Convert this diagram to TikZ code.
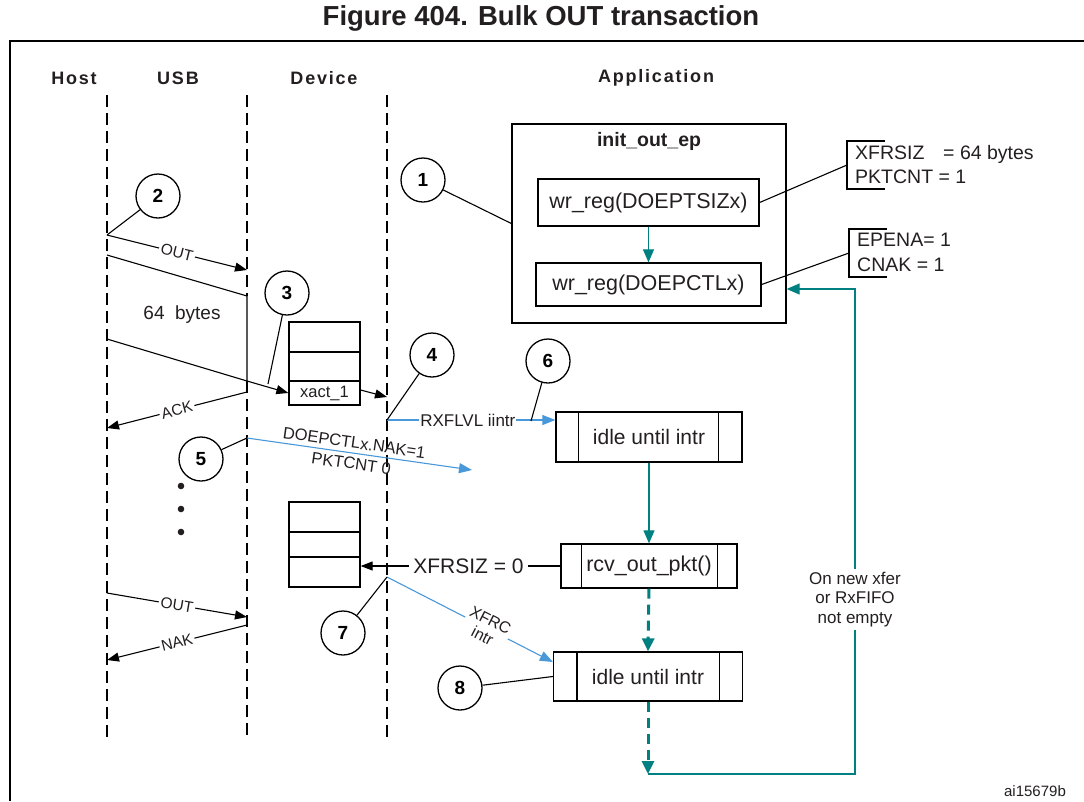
\documentclass[tikz,border=0pt]{standalone}
\usepackage{fontspec}
\setmainfont{Liberation Sans}
\newfontfamily\hdrfont[LetterSpace=10]{Liberation Sans}
\usetikzlibrary{arrows.meta,calc}
\definecolor{tealc}{RGB}{0,128,128}
\definecolor{iblue}{RGB}{72,152,218}
\definecolor{txt}{RGB}{35,31,32}
\newcommand\fsz[2]{\fontsize{#1}{#2}\selectfont}
\begin{document}
\begin{tikzpicture}[x=1pt,y=-1pt,
  lifeline/.style={line width=2.6pt, dash pattern=on 12pt off 6pt},
  framel/.style={line width=2.6pt},
  thinl/.style={line width=1.1pt},
  arr/.style={thinl, -{Triangle[length=12pt,width=9pt]}},
  barr/.style={iblue, line width=1.1pt, -{Triangle[length=13pt,width=10pt]}},
  tarr/.style={tealc, line width=1.2pt, -{Triangle[length=13pt,width=11pt]}},
  tdash/.style={tealc, line width=3pt, dash pattern=on 10pt off 6pt, -{Triangle[length=13pt,width=12pt]}},
  box/.style={draw, line width=1.3pt, inner sep=0pt, text=txt},
  callout/.style={draw, circle, line width=1.3pt, minimum size=44pt, inner sep=0pt, font=\bfseries\fsz{19}{21}},
  lbl/.style={fill=white, inner sep=2pt, text=txt},
  hdr/.style={font=\hdrfont\bfseries\fsz{18}{20}, text=txt}]
\useasboundingbox (0,0) rectangle (1084,801);

% title and frame
\node[font=\bfseries\fsz{27.5}{30}, text=txt] (title) at (541,18) {Figure 404. Bulk OUT transaction};
\coordinate (fr1) at (10,801); \coordinate (fr2) at (10,41); \coordinate (fr3) at (1084,41);
\draw[framel] (fr1) -- (fr2) -- (fr3);

% headers
\node[hdr] (hhost) at (74,78) {Host};
\node[hdr] (husb) at (178,78) {USB};
\node[hdr] (hdev) at (324,78) {Device};
\node[hdr] (happ) at (656,78) {Application};

% lifelines
\coordinate (H0) at (107,95); \coordinate (H1) at (107,738);
\coordinate (U0) at (247,95); \coordinate (U1) at (247,738);
\coordinate (D0) at (387,95); \coordinate (D1) at (387,738);
\coordinate (b1) at (107,255); \coordinate (b2) at (247,296);
\coordinate (b3) at (107,339); \coordinate (b4) at (247,381);
\draw[lifeline] (H0) -- (H1);
\draw[lifeline] (U0) -- (b2);
\draw[lifeline] (b4) -- (U1);
\draw[lifeline] (D0) -- (D1);

% init_out_ep box
\node[box, minimum width=274pt, minimum height=199pt] (init) at (649,223.5) {};
\node[font=\bfseries\fsz{19.5}{21}, text=txt] (initt) at (649,141) {init\_out\_ep};
\node[box, minimum width=221pt, minimum height=47pt, font=\fsz{21.5}{23}] (ts) at (648.5,202.5) {wr\_reg(DOEPTSIZx)};
\node[box, minimum width=225pt, minimum height=43pt, font=\fsz{21.5}{23}] (ctl) at (648.5,284.5) {wr\_reg(DOEPCTLx)};
\draw[tarr] (ts.south) -- (ctl.north);

% register callouts
\coordinate (k1a) at (885,141); \coordinate (k1b) at (847,141);
\coordinate (k1c) at (847,189); \coordinate (k1d) at (885,189);
\coordinate (k1m) at (847,165);
\draw[thinl] (k1a) -- (k1b) -- (k1c) -- (k1d);
\draw[thinl] (ts.east) -- (k1m);
\node[anchor=west, font=\fsz{19.5}{21}, text=txt, inner sep=0pt] (t1a) at (855,154) {\makebox[88pt][l]{XFRSIZ}= 64 bytes};
\node[anchor=west, font=\fsz{19.5}{21}, text=txt, inner sep=0pt] (t1b) at (855,177) {PKTCNT = 1};
\coordinate (k2a) at (887,229); \coordinate (k2b) at (849,229);
\coordinate (k2c) at (849,277); \coordinate (k2d) at (887,277);
\coordinate (k2m) at (849,253);
\draw[thinl] (k2a) -- (k2b) -- (k2c) -- (k2d);
\draw[thinl] (ctl.east) -- (k2m);
\node[anchor=west, font=\fsz{19.5}{21}, text=txt, inner sep=0pt] (t2a) at (857,240) {EPENA= 1};
\node[anchor=west, font=\fsz{19.5}{21}, text=txt, inner sep=0pt] (t2b) at (857,265) {CNAK = 1};

% FIFOs
\node[box, minimum width=71pt, minimum height=30pt] (f1a) at (324.5,337) {};
\node[box, minimum width=71pt, minimum height=29pt] (f1b) at (324.5,366.5) {};
\node[box, minimum width=71pt, minimum height=24pt, font=\fsz{16.5}{18}] (f1c) at (324.5,393) {xact\_1};
\node[box, minimum width=71pt, minimum height=30pt] (f2a) at (324.5,517) {};
\node[box, minimum width=71pt, minimum height=25pt] (f2b) at (324.5,544.5) {};
\node[box, minimum width=71pt, minimum height=30pt] (f2c) at (324.5,572) {};

% process boxes
\node[box, minimum width=186pt, minimum height=50pt, font=\fsz{21}{23}] (i1) at (649,437) {idle until intr};
\draw[line width=1.3pt] ([xshift=23pt]i1.north west) -- ([xshift=23pt]i1.south west);
\draw[line width=1.3pt] ([xshift=-24pt]i1.north east) -- ([xshift=-24pt]i1.south east);
\node[box, minimum width=176pt, minimum height=44pt, font=\fsz{21.5}{23}] (r) at (649,566) {rcv\_out\_pkt()};
\draw[line width=1.3pt] ([xshift=21pt]r.north west) -- ([xshift=21pt]r.south west);
\draw[line width=1.3pt] ([xshift=-20pt]r.north east) -- ([xshift=-20pt]r.south east);
\node[box, minimum width=189pt, minimum height=49pt, font=\fsz{21}{23}] (i2) at (648,676.5) {idle until intr};
\draw[line width=1.3pt] ([xshift=24pt]i2.north west) -- ([xshift=24pt]i2.south west);
\draw[line width=1.3pt] ([xshift=-24pt]i2.north east) -- ([xshift=-24pt]i2.south east);

% teal flow
\draw[tarr] (i1.south) -- (r.north);
\draw[tdash] (r.south) -- (i2.north);
\coordinate (fb) at (648,774);
\coordinate (fbr) at (855,774);
\coordinate (fbt) at (855,289);
\draw[tdash] (i2.south) -- (fb);
\draw[tarr] (fb) -- (fbr) -- node[lbl, pos=0.36, align=center, font=\fsz{17}{19.5}, inner sep=3pt] (newx) {On new xfer\\or RxFIFO\\not empty} (fbt) -- (fbt -| init.east);

% messages
\coordinate (o1s) at (107,235); \coordinate (o1e) at (247,270);
\draw[arr] (o1s) -- node[lbl, sloped, font=\fsz{15.5}{17}] (lout1) {OUT} (o1e);
\draw[thinl] (b1) -- (b2) -- (b4);
\draw[thinl] (b3) -- (b4);
\node[font=\fsz{19}{21}, text=txt] (l64) at (182,315) {64\ \ bytes};
\draw[arr] (b4) -- (f1c.west);
\coordinate (d1) at (387,397);
\draw[arr] ([yshift=3pt]f1c.east) -- (d1);
\coordinate (a1) at (247,392); \coordinate (a2) at (107,428);
\draw[arr] (a1) -- node[lbl, sloped, font=\fsz{15.5}{17}] (lack) {ACK} (a2);
\coordinate (d4) at (387,420);
\draw[barr] (d4) -- node[lbl, pos=0.48, font=\fsz{17}{19}, inner sep=1pt] (lrx) {RXFLVL iintr} (d4 -| i1.west);
\coordinate (u5) at (247,438); \coordinate (n5) at (472,470);
\draw[barr] (u5) -- node[sloped, pos=0.47, align=center, font=\fsz{16.5}{21}, text=txt] (lnak) {DOEPCTLx.NAK=1\\PKTCNT 0} (n5);
\fill[txt] (181,486) circle (3.3pt);
\fill[txt] (181,509) circle (3.3pt);
\fill[txt] (181,532) circle (3.3pt);
\draw[arr] (r.west) -- node[lbl, pos=0.46, font=\fsz{21}{23}, inner sep=4pt] (lxs) {XFRSIZ = 0} (r.west -| f2c.east);
\coordinate (d7) at (387,577);
\draw[barr] (d7) -- node[lbl, sloped, pos=0.6, align=center, font=\fsz{16}{17.5}, inner sep=2pt] (lxfrc) {XFRC\\intr} ([yshift=14.5pt]i2.west);
\coordinate (o2s) at (107,593); \coordinate (o2e) at (247,617);
\draw[arr] (o2s) -- node[lbl, sloped, font=\fsz{15.5}{17}] (lout2) {OUT} (o2e);
\coordinate (n2s) at (247,625); \coordinate (n2e) at (107,660);
\draw[arr] (n2s) -- node[lbl, sloped, font=\fsz{15.5}{17}] (lnak2) {NAK} (n2e);

% callout circles
\node[callout] (c1) at (423,180) {1};
\node[callout] (c2) at (158,196) {2};
\node[callout] (c3) at (287,293) {3};
\node[callout] (c4) at (432,355) {4};
\node[callout] (c5) at (201,459) {5};
\node[callout] (c6) at (548,361) {6};
\node[callout] (c7) at (343,633) {7};
\node[callout] (c8) at (460,688) {8};
\coordinate (c3t) at (268,384);
\coordinate (c6t) at (531,421);
\draw[thinl] (c1) -- (init.west);
\draw[thinl] (c2) -- (o1s);
\draw[thinl] (c3) -- (c3t);
\draw[thinl] (c4) -- (d4);
\draw[thinl] (c5) -- (u5);
\draw[thinl] (c6) -- (c6t);
\draw[thinl] (c7) -- (d7);
\draw[thinl] (c8) -- (i2.west);

\node[font=\fsz{15}{17}, text=txt] (aid) at (1035,791) {ai15679b};
\end{tikzpicture}
\end{document}
